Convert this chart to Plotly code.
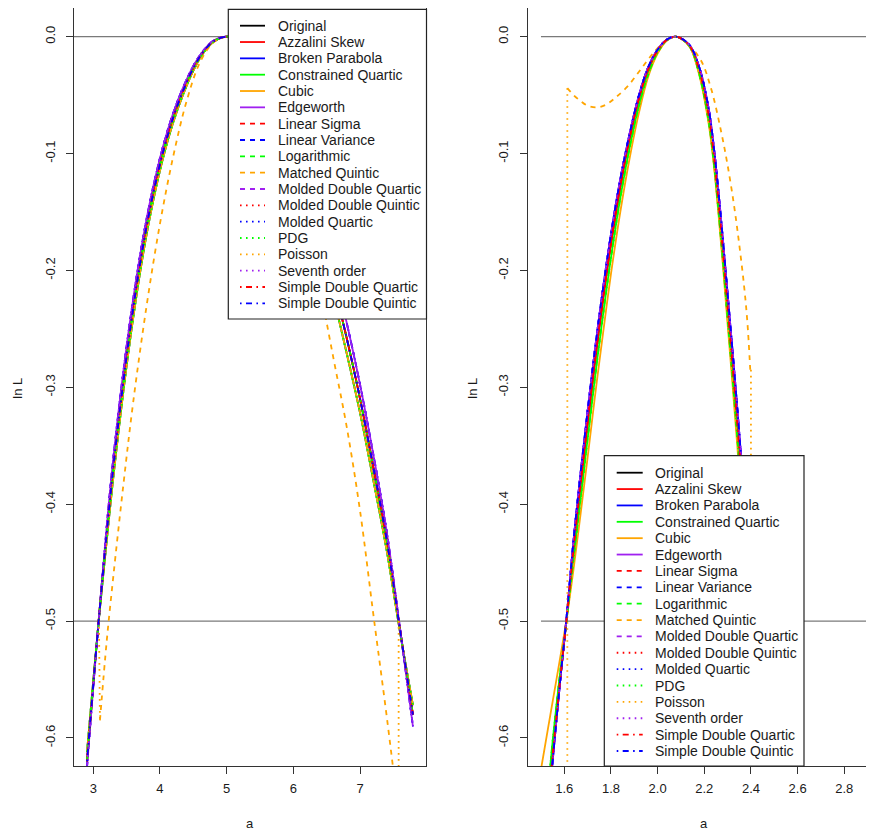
import plotly.graph_objects as go

# the page body adds an 8 px offset; the figure is sized so that the screen matches 874x832
OX, OY = 8, 8
W, H = 874 - OX, 832 - OY

# ---------------- data ----------------
SERIES = ["Original", "Azzalini Skew", "Broken Parabola", "Constrained Quartic", "Cubic",
          "Edgeworth", "Linear Sigma", "Linear Variance", "Logarithmic", "Matched Quintic",
          "Molded Double Quartic", "Molded Double Quintic", "Molded Quartic", "PDG", "Poisson",
          "Seventh order", "Simple Double Quartic", "Simple Double Quintic"]
SERIES_COLORS = ["#000000", "#FF0000", "#0000FF", "#00FF00", "#FFA500", "#A020F0",
                 "#FF0000", "#0000FF", "#00FF00", "#FFA500", "#A020F0",
                 "#FF0000", "#0000FF", "#00FF00", "#FFA500", "#A020F0",
                 "#FF0000", "#0000FF"]
SERIES_LTY = [1, 1, 1, 1, 1, 1, 2, 2, 2, 2, 2, 3, 3, 3, 3, 3, 4, 4]

# left panel (peak near a = 5)
LEFT_X = [2.906, 3.0, 3.085, 3.2, 3.3, 3.45, 3.6, 3.75, 3.9, 4.05, 4.2, 4.35, 4.5, 4.65, 4.8, 5.0,
          5.2, 5.4, 5.6, 5.8, 6.0, 6.2, 6.4, 6.6, 6.8, 7.0, 7.2, 7.4, 7.6, 7.792]
LEFT_CORE = [-0.620, -0.554, -0.497, -0.426, -0.369, -0.296, -0.232, -0.178, -0.134, -0.098,
             -0.069, -0.046, -0.027, -0.013, -0.004, 0.0,
             -0.003, -0.013, -0.030, -0.053, -0.082, -0.117, -0.160, -0.210, -0.258, -0.310,
             -0.369, -0.431, -0.508, -0.580]
LEFT_WIDE = [-0.625, -0.556, -0.497, -0.420, -0.361, -0.287, -0.224, -0.171, -0.128, -0.093,
             -0.065, -0.043, -0.025, -0.012, -0.0035, 0.0,
             -0.003, -0.012, -0.027, -0.048, -0.075, -0.108, -0.149, -0.197, -0.245, -0.298,
             -0.358, -0.424, -0.507, -0.590]
LEFT_NARROW = [-0.612, -0.551, -0.498, -0.432, -0.377, -0.304, -0.240, -0.185, -0.140, -0.103,
               -0.073, -0.049, -0.029, -0.014, -0.0045, 0.0,
               -0.0035, -0.014, -0.032, -0.057, -0.088, -0.126, -0.171, -0.222, -0.271, -0.322,
               -0.380, -0.440, -0.510, -0.572]
LEFT_MQ_X = [3.10, 3.2, 3.3, 3.45, 3.6, 3.8, 4.0, 4.2, 4.4, 4.6, 4.8, 5.0, 5.2, 5.4, 5.6, 5.8,
             6.0, 6.2, 6.4, 6.6, 6.8, 7.0, 7.2, 7.4, 7.6, 7.792]
LEFT_MQ_Y = [-0.585, -0.518, -0.462, -0.384, -0.312, -0.230, -0.160, -0.102, -0.055, -0.022,
             -0.005, 0.0, -0.004, -0.016, -0.038, -0.070, -0.110, -0.157, -0.215, -0.275,
             -0.334, -0.406, -0.495, -0.582, -0.676, -0.770]
LEFT_POISSON_X = [3.085, 3.10, None, 7.578, 7.578]
LEFT_POISSON_Y = [-0.500, -0.585, None, -0.500, -0.700]

# right panel (peak near a = 2.08)
RIGHT_X = [1.50, 1.53, 1.55, 1.58, 1.61, 1.64, 1.67, 1.70, 1.73, 1.76, 1.80, 1.84, 1.88, 1.92,
           1.96, 2.00, 2.04, 2.076, 2.10, 2.14, 2.18, 2.22, 2.24, 2.26, 2.28, 2.30, 2.32, 2.34,
           2.36, 2.38, 2.40, 2.42]
RIGHT_CORE = [-0.730, -0.660, -0.615, -0.554, -0.498, -0.438, -0.383, -0.330, -0.280, -0.233,
              -0.177, -0.128, -0.087, -0.053, -0.028, -0.012, -0.0027, 0.0, -0.0014, -0.0086,
              -0.030, -0.069, -0.100, -0.140, -0.184, -0.232, -0.279, -0.328, -0.380, -0.435,
              -0.492, -0.552]
RIGHT_WIDE = [-0.740, -0.668, -0.620, -0.556, -0.496, -0.430, -0.373, -0.320, -0.270, -0.224,
              -0.169, -0.122, -0.083, -0.050, -0.026, -0.011, -0.0024, 0.0, -0.0013, -0.0080,
              -0.027, -0.063, -0.093, -0.131, -0.174, -0.220, -0.266, -0.314, -0.365, -0.420,
              -0.477, -0.537]
RIGHT_NARROW = [-0.705, -0.645, -0.603, -0.548, -0.499, -0.446, -0.395, -0.344, -0.294, -0.247,
                -0.189, -0.138, -0.095, -0.059, -0.032, -0.0135, -0.003, 0.0, -0.0015, -0.0092,
                -0.033, -0.074, -0.106, -0.147, -0.192, -0.241, -0.289, -0.339, -0.392, -0.448,
                -0.506, -0.566]
RIGHT_CUBIC = [-0.627, -0.592, -0.569, -0.534, -0.498, -0.455, -0.408, -0.360, -0.310, -0.263,
               -0.203, -0.150, -0.104, -0.065, -0.034, -0.0145, -0.003, 0.0, -0.0016, -0.0095,
               -0.034, -0.076, -0.108, -0.150, -0.196, -0.246, -0.295, -0.346, -0.400, -0.457,
               -0.517, -0.579]
RIGHT_MQ_X = [1.613, 1.64, 1.67, 1.70, 1.742, 1.78, 1.82, 1.869, 1.92, 1.969, 2.02, 2.078,
              2.126, 2.185, 2.23, 2.271, 2.30, 2.328, 2.35, 2.371, 2.385, 2.397]
RIGHT_MQ_Y = [-0.044, -0.050, -0.055, -0.059, -0.0604, -0.058, -0.052, -0.043, -0.030, -0.017,
              -0.006, 0.0, -0.0057, -0.020, -0.045, -0.080, -0.110, -0.145, -0.178, -0.214,
              -0.245, -0.285]
RIGHT_POISSON_X = [1.613, 1.613, None, 2.400, 2.400]
RIGHT_POISSON_Y = [-0.044, -0.700, None, -0.285, -0.700]

LEFT_KEYS = ["core", "core", "narrow", "narrow", "narrow", "wide", "core", "wide", "core", "mq",
             "wide", "core", "wide", "narrow", "poisson", "wide", "core", "core"]
RIGHT_KEYS = ["core", "core", "wide", "narrow", "cubic", "wide", "core", "wide", "narrow", "mq",
              "wide", "core", "wide", "narrow", "poisson", "wide", "core", "wide"]

HLINE_Y = [0.0, -0.5]
LEFT_HLINE_X = [2.5, 8.5]
RIGHT_HLINE_X = [1.5, 2.9]

LEFT_XTICKS = [3, 4, 5, 6, 7]
LEFT_XTICK_TEXT = ["3", "4", "5", "6", "7"]
RIGHT_XTICKS = [1.6, 1.8, 2.0, 2.2, 2.4, 2.6, 2.8]
RIGHT_XTICK_TEXT = ["1.6", "1.8", "2.0", "2.2", "2.4", "2.6", "2.8"]
Y_TICKS = [-0.6, -0.5, -0.4, -0.3, -0.2, -0.1, 0.0]
Y_TICK_TEXT = ["-0.6", "-0.5", "-0.4", "-0.3", "-0.2", "-0.1", "0.0"]

# ---------------- styling ----------------
FONT = "Liberation Sans, Arial, Helvetica, sans-serif"
TXT = "#1a1a1a"
FRAME = "#333333"
DASHES = {1: "solid", 2: "5px,5px", 3: "1.6px,4.4px", 4: "1.6px,4.4px,6px,4.4px"}
LW = 1.8

left_curves = {
    "core": (LEFT_X, LEFT_CORE), "wide": (LEFT_X, LEFT_WIDE), "narrow": (LEFT_X, LEFT_NARROW),
    "mq": (LEFT_MQ_X, LEFT_MQ_Y), "poisson": (LEFT_POISSON_X, LEFT_POISSON_Y),
}
right_curves = {
    "core": (RIGHT_X, RIGHT_CORE), "wide": (RIGHT_X, RIGHT_WIDE), "narrow": (RIGHT_X, RIGHT_NARROW),
    "cubic": (RIGHT_X, RIGHT_CUBIC), "mq": (RIGHT_MQ_X, RIGHT_MQ_Y),
    "poisson": (RIGHT_POISSON_X, RIGHT_POISSON_Y),
}

fig = go.Figure()


def add_panel(curves, keys, hline_x, xa, ya):
    for hy in HLINE_Y:
        fig.add_trace(go.Scatter(x=hline_x, y=[hy, hy], mode="lines",
                                 line=dict(color="#7a7a7a", width=1.3),
                                 xaxis=xa, yaxis=ya, showlegend=False, hoverinfo="skip"))
    for name, col, lty, key in zip(SERIES, SERIES_COLORS, SERIES_LTY, keys):
        xs, ys = curves[key]
        shape = "linear" if key == "poisson" else "spline"
        fig.add_trace(go.Scatter(x=xs, y=ys, mode="lines", name=name,
                                 line=dict(color=col, width=LW, dash=DASHES[lty], shape=shape),
                                 connectgaps=False, xaxis=xa, yaxis=ya, showlegend=False))


add_panel(left_curves, LEFT_KEYS, LEFT_HLINE_X, "x", "y")
add_panel(right_curves, RIGHT_KEYS, RIGHT_HLINE_X, "x2", "y2")


def px(x):
    return (x - OX) / W


def py(y):
    return 1 - (y - OY) / H


YDOM = [py(766), py(8.3)]
tickfont = dict(family=FONT, size=13, color=TXT)
axis_common = dict(showgrid=False, zeroline=False, showline=True, linecolor=FRAME, linewidth=1.2,
                   ticks="outside", ticklen=7, tickwidth=1, tickcolor=FRAME, tickfont=tickfont)

fig.update_layout(
    width=W, height=H, margin=dict(l=0, r=0, t=0, b=0),
    paper_bgcolor="white", plot_bgcolor="white", showlegend=False,
    xaxis=dict(domain=[px(74), px(426)], range=[2.711, 7.988], anchor="y", mirror=True,
               tickvals=LEFT_XTICKS, ticktext=LEFT_XTICK_TEXT, ticklabelstandoff=3, **axis_common),
    yaxis=dict(domain=YDOM, range=[-0.624, 0.0243], anchor="x", mirror=True,
               tickvals=Y_TICKS, ticktext=Y_TICK_TEXT, tickangle=-90, ticklabelstandoff=6,
               **axis_common),
    xaxis2=dict(domain=[px(527.7), 1.0], range=[1.4431, 2.9275], anchor="y2", mirror=True,
                tickvals=RIGHT_XTICKS, ticktext=RIGHT_XTICK_TEXT, ticklabelstandoff=3, **axis_common),
    yaxis2=dict(domain=YDOM, range=[-0.624, 0.0243], anchor="x2", mirror=False,
                tickvals=Y_TICKS, ticktext=Y_TICK_TEXT, tickangle=-90, ticklabelstandoff=6,
                **axis_common),
)

shapes = []
annotations = []


def draw_legend(box, row0, dy, sx0, sx1, tx):
    x0, x1, y0, y1 = box
    shapes.append(dict(type="rect", xref="paper", yref="paper", x0=px(x0), x1=px(x1),
                       y0=py(y1), y1=py(y0), fillcolor="white",
                       line=dict(color="#222222", width=1.2), layer="above"))
    for i, (name, col, lty) in enumerate(zip(SERIES, SERIES_COLORS, SERIES_LTY)):
        yy = row0 + dy * i
        shapes.append(dict(type="line", xref="paper", yref="paper", x0=px(sx0), x1=px(sx1),
                           y0=py(yy), y1=py(yy), layer="above",
                           line=dict(color=col, width=LW, dash=DASHES[lty])))
        annotations.append(dict(text=name, xref="paper", yref="paper", x=px(tx), y=py(yy),
                                xanchor="left", yanchor="middle", showarrow=False, borderpad=0,
                                font=dict(family=FONT, size=14, color=TXT)))


draw_legend((228.3, 426.5, 9.3, 319.0), 25.7, 16.33, 240, 265, 276.5)
draw_legend((604.3, 804.0, 455.7, 766.0), 472.7, 16.37, 616.7, 642.7, 653.5)

# axis titles
for (x, y, t, ang) in [(16.7, 388, "ln L", -90), (471.7, 388, "ln L", -90),
                       (250, 823, "a", 0), (704, 823, "a", 0)]:
    annotations.append(dict(text=t, xref="paper", yref="paper", x=px(x), y=py(y),
                            xanchor="center", yanchor="middle", showarrow=False, textangle=ang,
                            font=dict(family=FONT, size=13, color=TXT)))

fig.update_layout(shapes=shapes, annotations=annotations)
fig.write_html("out.html")
